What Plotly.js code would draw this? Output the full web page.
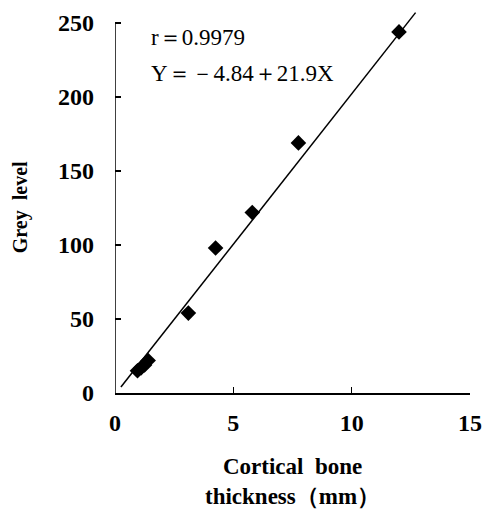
<!DOCTYPE html>
<html>
<head>
<meta charset="utf-8">
<script src="https://cdn.plot.ly/plotly-3.0.1.min.js"></script>
<style>html,body{margin:0;padding:0;background:#fff;}#chart{width:482px;height:518px;}</style>
</head>
<body>
<div id="chart"></div>
<script>
// Data
var thickness = [0.95, 1.1, 1.25, 1.4, 3.1, 4.25, 5.8, 7.75, 12.0];
var greyLevel = [15, 17, 19, 22, 54, 98, 122, 169, 244];
var fitX = [0.25, 12.7];
var fitY = [4, 257];
var xTicks = [0, 5, 10, 15];
var yTicks = [0, 50, 100, 150, 200, 250];
var annR = "r＝0.9979";
var annEq = "Y＝－4.84＋21.9X";
var xTitle1 = "Cortical  bone";
var xTitle2 = "thickness（mm）";
var yTitle = "Grey  level";

var serif = "Liberation Serif, Times New Roman, serif";

var traces = [
  {x: fitX, y: fitY, mode: 'lines', line: {color: '#000', width: 1.5}, hoverinfo: 'skip'},
  {x: thickness, y: greyLevel, mode: 'markers', marker: {symbol: 'diamond', size: 12, color: '#000'}}
];

var layout = {
  width: 482, height: 518,
  margin: {l: 115, r: 12, t: 10, b: 125},
  showlegend: false,
  paper_bgcolor: '#fff', plot_bgcolor: '#fff',
  font: {family: serif, color: '#000'},
  xaxis: {
    range: [0, 15], tickvals: xTicks, ticktext: xTicks.map(String),
    ticks: 'inside', ticklen: 6, tickwidth: 1.5, tickcolor: '#000',
    showline: true, linecolor: '#000', linewidth: 1.5,
    showgrid: false, zeroline: false,
    tickfont: {family: serif, size: 24, color: '#000', weight: 'bold'},
    ticklabelstandoff: 8
  },
  yaxis: {
    range: [0, 258.8], tickvals: yTicks, ticktext: yTicks.map(String),
    ticks: 'inside', ticklen: 6, tickwidth: 1.5, tickcolor: '#000',
    showline: false, showgrid: false, zeroline: false,
    tickfont: {family: serif, size: 24, color: '#000', weight: 'bold'},
    ticklabelstandoff: 20
  },
  shapes: [
    {type: 'line', xref: 'x', yref: 'y', x0: 0, x1: 0, y0: 0, y1: 250, line: {color: '#000', width: 1.5}}
  ],
  annotations: [
    {xref: 'x', yref: 'y', x: 1.45, y: 240, xanchor: 'left', yanchor: 'middle', showarrow: false, text: annR, font: {family: serif, size: 23, color: '#000'}},
    {xref: 'x', yref: 'y', x: 1.45, y: 216, xanchor: 'left', yanchor: 'middle', showarrow: false, text: annEq, font: {family: serif, size: 23, color: '#000'}},
    {xref: 'paper', yref: 'paper', x: 0.5, y: -0.193, xanchor: 'center', yanchor: 'middle', showarrow: false, text: xTitle1, font: {family: serif, size: 23, color: '#000', weight: 'bold'}},
    {xref: 'paper', yref: 'paper', x: 0.5, y: -0.2715, xanchor: 'center', yanchor: 'middle', showarrow: false, text: xTitle2, font: {family: serif, size: 23, color: '#000', weight: 'bold'}},
    {xref: 'paper', yref: 'paper', x: -0.2676, y: 0.485, xanchor: 'center', yanchor: 'middle', textangle: -90, showarrow: false, text: yTitle, font: {family: serif, size: 20, color: '#000', weight: 'bold'}}
  ]
};

Plotly.newPlot('chart', traces, layout, {displayModeBar: false, staticPlot: true});
</script>
</body>
</html>
